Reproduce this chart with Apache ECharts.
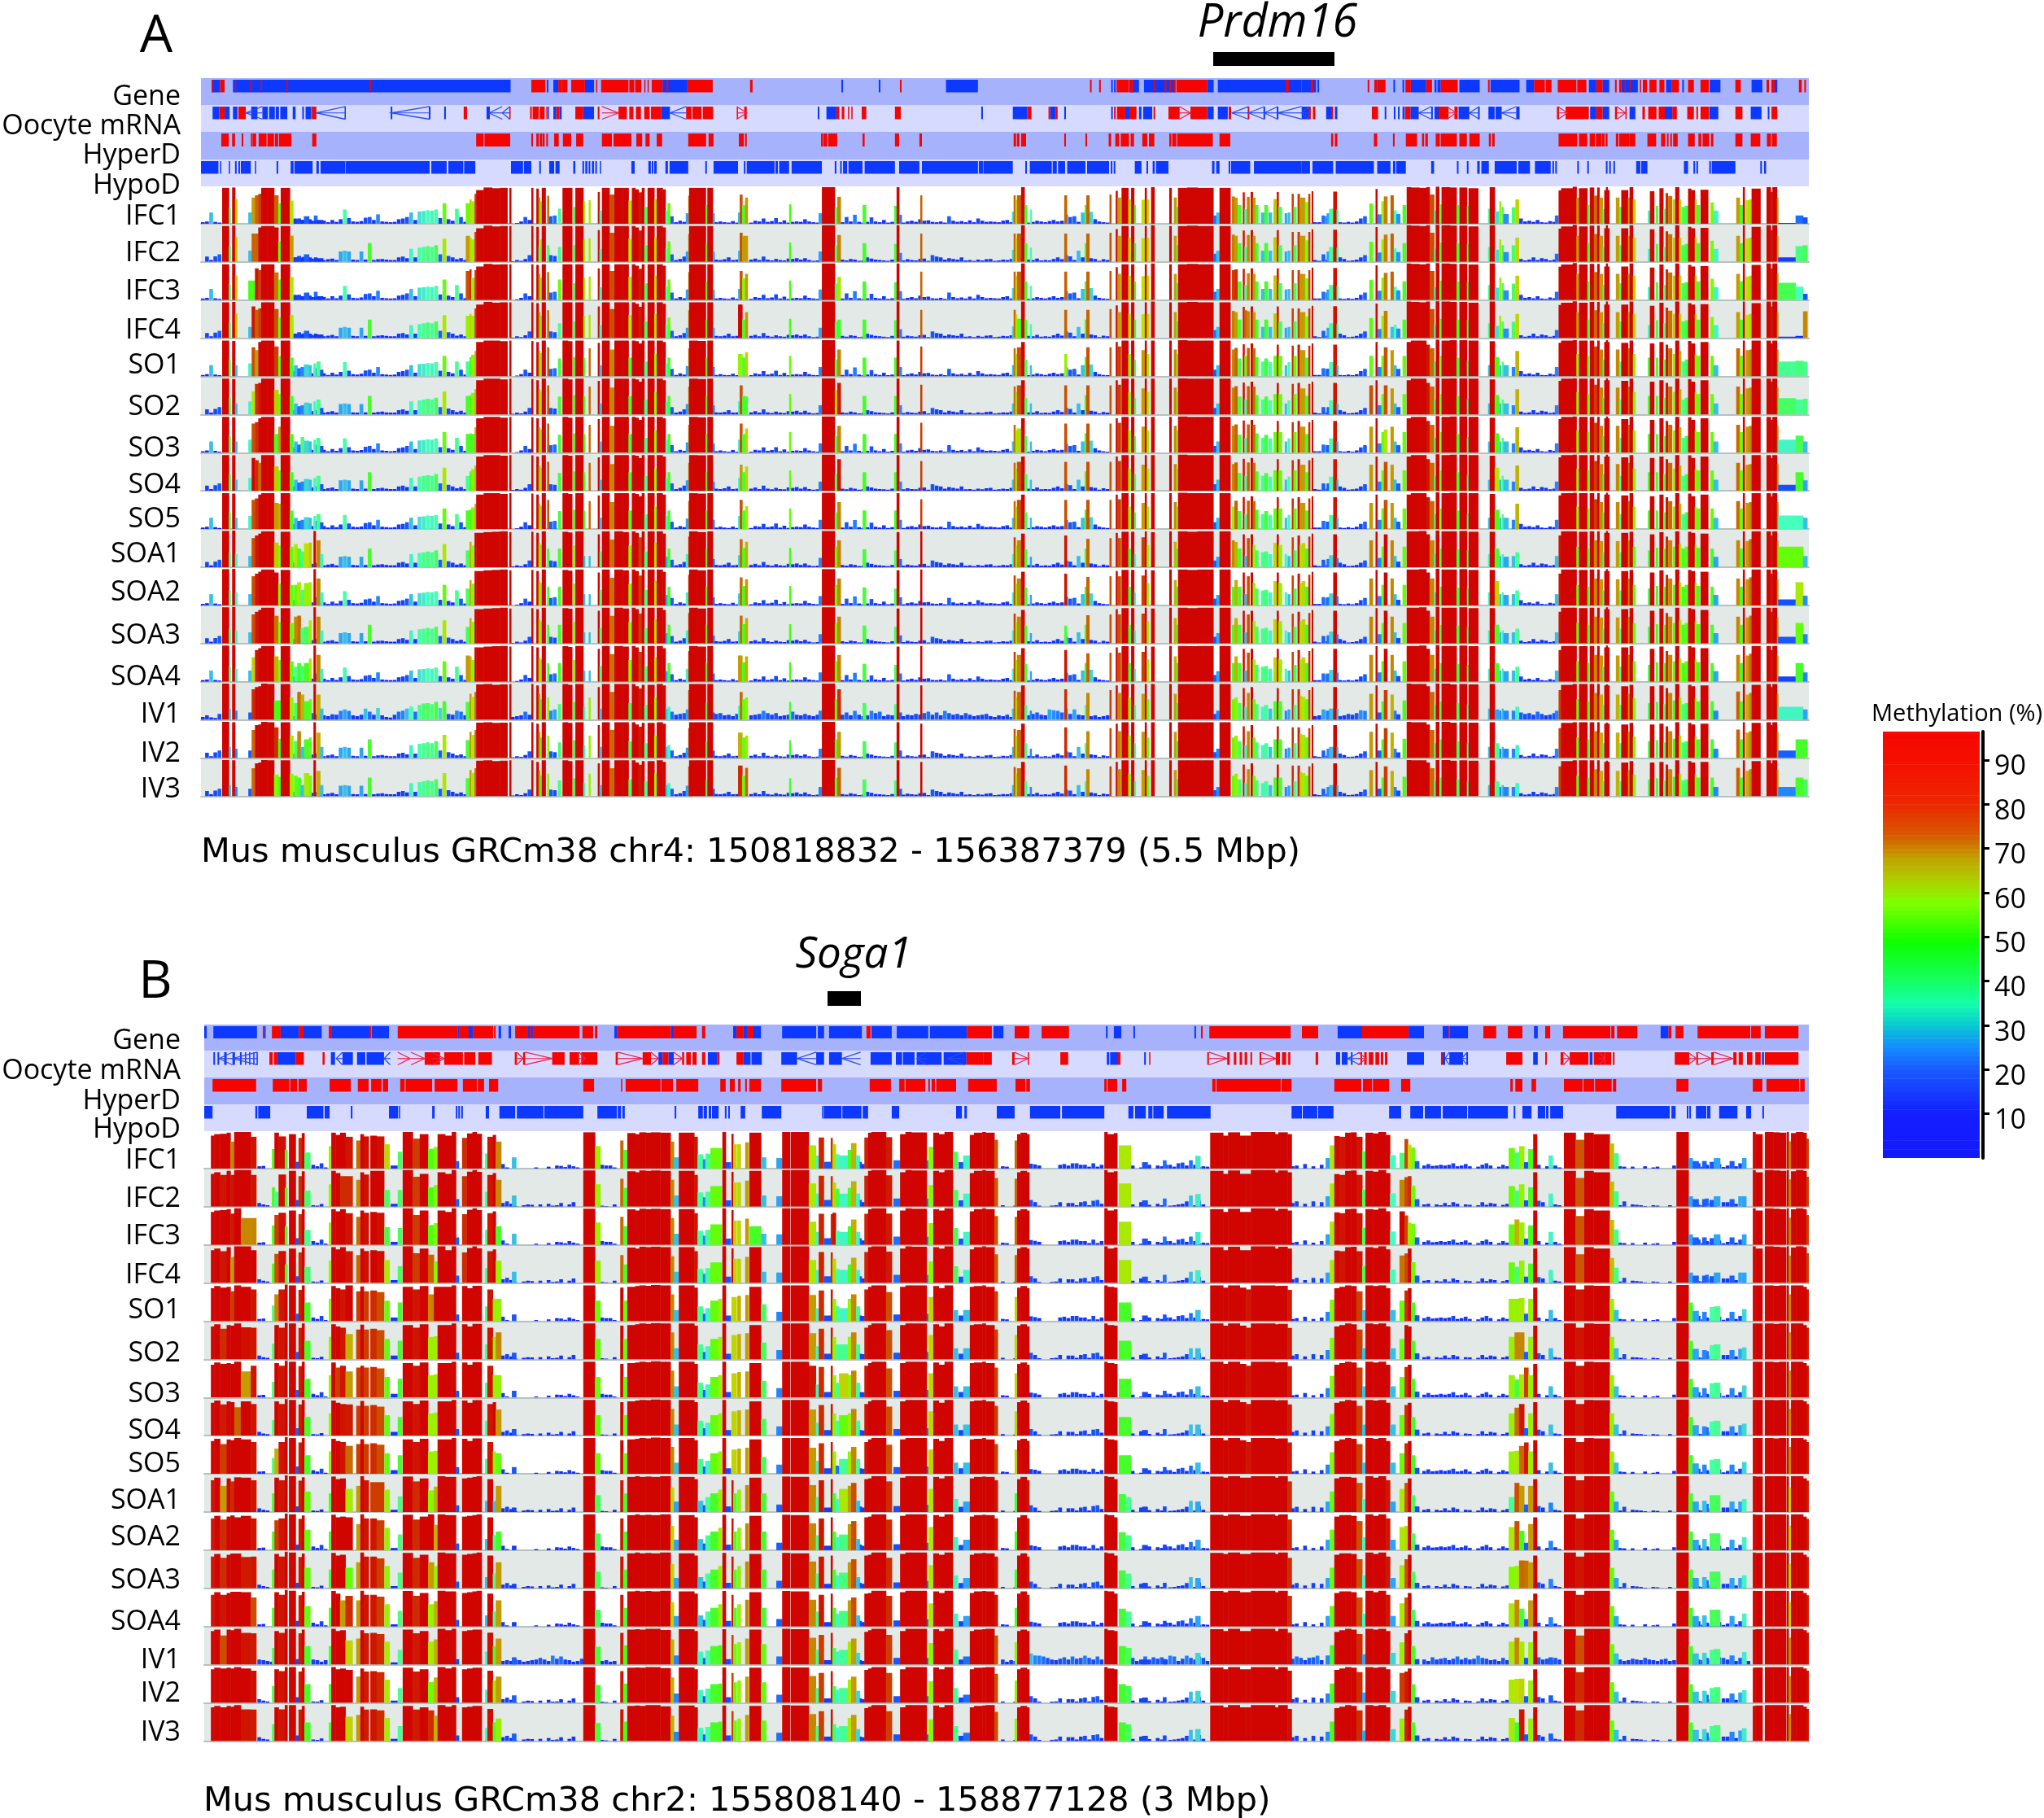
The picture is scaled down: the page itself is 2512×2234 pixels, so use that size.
<!DOCTYPE html>
<html><head><meta charset="utf-8">
<style>html,body{margin:0;padding:0;background:#fff}#c{width:2512px;height:2234px}</style>
<script src="https://cdn.jsdelivr.net/npm/echarts@6/dist/echarts.min.js"></script>
</head><body><div id="c"></div>
<script>
// ---------- names ----------
const samples=['IFC1','IFC2','IFC3','IFC4','SO1','SO2','SO3','SO4','SO5','SOA1','SOA2','SOA3','SOA4','IV1','IV2','IV3'];
const bandNames=['Gene','Oocyte mRNA','HyperD','HypoD'];
const captionA='Mus musculus GRCm38 chr4: 150818832 - 156387379 (5.5 Mbp)';
const captionB='Mus musculus GRCm38 chr2: 155808140 - 158877128 (3 Mbp)';
const legendTicks=[10,20,30,40,50,60,70,80,90];

// ---------- annotation tracks: flat start,end pairs in bins, per stretch of the region ----------
const geneRedA1=[510,512,530,541,566,568,603,605,628,630,690,692,891,894,1280,1314,1345,1353,1353,1367,1376,1409,1436,1439,1448,1514,1516,1528,1530,1545,1552,1555,1560,1563];
const geneRedA2=[2,28,38,42,88,149,239,245,600,604,1058,1062,1080,1084,1122,1152,1155,1163,1212,1215,1238,1242,1250,1254,1260,1264,1266,1340,1530,1537];
const geneRedA3=[22,28,159,163,175,182,184,202,250,263,300,314,335,376,449,453,560,586,588,602,617,662,664,686,710,725,755,759,765,770,778,781,790,793,815,818,822,832,838,855,862,874,892,909,931,945,961,981,1045,1058,1120,1126,1132,1140,1198,1205,1211,1215];
const geneBlueA1=[510,530,561,1230,1317,1321,1333,1345,1409,1431];
const geneBlueA2=[28,88,459,463,549,553,711,788,1109,1113,1116,1120,1153,1176,1188,1264,1340,1356,1366,1568];
const geneBlueA3=[0,35,38,42,182,184,221,225,243,247,263,300,320,325,327,335,380,429,455,525,541,560,692,710,725,741,770,810,878,892,917,921,983,1009,1084,1110,1132,1146];
const oocRedA1=[528,541,574,592,751,762,1117,1125,1227,1230,1277,1281,1283,1298,1300,1312,1316,1319,1340,1348,1386,1405,1440,1444,1490,1510,1516,1526,1532,1544,1552,1565];
const oocRedA2=[0,25,85,98,100,122,125,150,207,210,225,231,447,454,460,466,475,478,483,486,508,519,588,602,907,917,958,962,975,980,1116,1120,1123,1143,1153,1170,1211,1215,1247,1274,1300,1340,1392,1398,1438,1442];
const oocRedA3=[18,22,27,33,73,76,169,184,249,262,330,354,368,376,615,620,636,692,710,725,755,760,780,783,821,827,835,855,860,875,893,904,929,945,951,955,961,981,1045,1062,1132,1146];
const oocBlueA1=[512,528,541,553,561,572,605,620,632,645,648,662,664,672,675,692,705,712,728,732,736,750,830,833,941,945,1033,1037,1070,1074,1172,1180,1320,1322,1333,1340,1348,1353,1405,1431];
const oocBlueA2=[25,46,402,406,423,447,796,800,872,907,962,975,996,1000,1109,1113,1143,1153,1176,1182,1186,1208,1340,1356,1366,1390,1476,1480,1508,1512];
const oocBlueA3=[0,18,59,73,80,86,200,204,222,226,232,236,243,248,262,282,312,316,320,330,378,404,425,429,450,465,467,482,517,525,695,710,725,741,790,804,875,893,982,1004,1082,1108,1123,1127];
const chevBlueA1=[592,632,762,832,943,1035,1178,1210,1210,1228];
const chevBlueA2=[46,85,1400,1440,1440,1478,1478,1510,1510,1568];
const chevBlueA3=[0,18,282,312,404,428,482,517];
const chevRedA1=[1450,1490];
const chevRedA2=[207,231,1274,1300];
const chevRedA3=[350,372,618,640,760,780];
const hyperA1=[533,551,559,566,582,586,604,607,608,617,623,642,644,660,662,670,672,702,752,762,1147,1165,1167,1229,1280,1284,1292,1298,1300,1306,1307,1312,1316,1320,1335,1346,1356,1376,1388,1405,1450,1474,1478,1521,1533,1547,1555,1565];
const hyperA2=[14,27,90,133,139,151,212,224,227,231,410,414,415,425,427,449,510,515,588,598,647,653,874,880,882,888,892,904,996,1000,1047,1051,1103,1109,1119,1128,1132,1152,1156,1164,1184,1196,1200,1213,1249,1254,1256,1266,1268,1354,1370,1396];
const hyperA3=[71,76,80,86,174,182,220,224,251,278,290,295,298,304,323,333,335,374,380,398,404,429,451,456,459,465,619,664,668,688,694,707,709,722,723,730,732,737,757,763,765,790,790,804,833,854,866,876,880,884,888,892,895,906,931,947,956,963,966,982,986,992,1045,1062,1082,1105,1121,1131,1133,1145];
const hypoA1=[484,526,530,533,551,554,566,570,574,578,580,588,588,604,614,617,666,670,700,707,709,753,762,768,772,832,833,1035,1039,1076,1080,1116,1118,1145,1231,1260,1262,1280,1299,1303,1323,1335,1338,1348,1381,1386,1403,1407,1410,1415,1418,1422,1426,1431,1434,1438,1445,1448,1521,1529,1562,1568];
const hypoA2=[2,6,8,14,35,41,45,90,131,135,151,210,224,228,231,298,300,306,309,333,339,412,443,447,456,460,463,473,476,510,515,588,598,647,653,788,790,800,801,872,902,906,913,966,968,978,981,998,1003,1047,1051,1104,1108,1112,1115,1119,1166,1182,1194,1198,1209,1214,1217,1247,1352,1358,1362,1370,1392,1396,1398,1444,1453,1568];
const hypoA3=[0,20,26,76,82,174,182,214,220,226,228,251,312,319,374,378,398,402,423,429,433,451,465,518,522,550,562,600,604,608,611,615,664,668,688,692,733,737,741,745,751,755,806,816,818,833,921,931,944,948,951,955,982,986,988,1045,1105,1109,1114,1119];

const geneRedB1=[633,636,655,676,720,731,792,798,890,894,958,1103,1107,1129,1139,1188,1190,1194,1241,1272,1276,1280,1284,1396,1403,1429,1433,1439,1487,1568];
const geneRedB2=[0,48,55,110,123,131,206,222,233,247,519,529,761,821,876,911,941,1007,1325,1329,1345,1541];
const geneRedB3=[0,39,145,257,353,356,437,468,496,531,586,598,629,743,745,753,759,808,883,890,900,919,953,1080,1082,1105,1115,1196];
const geneBlueB1=[492,498,514,619,636,640,676,720,731,775,798,890,895,937,1103,1107,1129,1139,1201,1207,1225,1231,1272,1276,1280,1284,1480,1487];
const geneBlueB2=[48,55,198,206,222,233,247,265,316,398,402,417,429,508,531,580,592,668,672,761,825,849,1096,1100,1115,1133,1162,1166,1309,1313];
const geneBlueB3=[86,145,257,294,339,353,356,400,559,568,864,883];
const oocRedB1=[649,657,660,668,712,732,777,782,1023,1060,1070,1115,1118,1145,1152,1185,1240,1245,1260,1265,1330,1360,1372,1395,1400,1439,1483,1488,1548,1568];
const oocRedB2=[28,42,75,80,85,96,100,110,123,131,160,165,206,222,760,800,800,821,870,876,908,911,986,1005,1125,1131,1200,1203,1340,1344,1388,1394,1404,1410,1418,1424,1430,1436,1444,1448,1466,1470,1505,1515,1520,1530,1535,1540];
const oocRedB3=[33,39,141,145,150,156,161,172,177,186,190,196,200,206,335,339,492,531,586,590,623,630,645,690,703,730,730,745,749,753,898,933,950,954,986,992,1039,1047,1052,1062,1072,1085,1092,1105,1115,1196];
const oocBlueB1=[514,518,524,528,540,546,560,566,578,582,590,593,600,603,610,613,618,621,668,712,797,807,825,850,860,880,883,925];
const oocBlueB2=[18,28,42,55,137,160,222,240,242,267,314,352,398,417,429,460,529,580,590,605,607,635,640,700,705,760,1098,1104,1106,1125,1188,1192];
const oocBlueB3=[82,92,96,110,118,122,253,294,339,345,355,388,396,400,557,568,693,700,1108,1113];
const chevBlueB1=[528,560,560,620,810,825,925,940];
const chevBlueB2=[352,398,460,505,640,665,715,755];
const chevBlueB3=[110,140,345,355,385,398];
const chevRedB1=[958,988,990,1023,1040,1070,1245,1260,1265,1330,1395,1410,1488,1548];
const chevRedB2=[0,18,55,75,876,908,1344,1388,1470,1505];
const chevRedB3=[135,155,630,645,715,730,930,950,954,986,992,1038];
const hyperB1=[512,617,657,697,699,716,719,739,794,845,862,888,894,919,922,935,964,975,977,1041,1047,1102,1115,1149,1151,1166,1178,1200,1405,1431,1496,1499,1507,1568];
const hyperB2=[0,23,25,53,61,114,167,180,190,202,210,216,227,231,237,265,314,398,402,412,527,578,598,611,613,661,668,672,676,684,687,735,764,833,878,902,904,913,1092,1098,1100,1123,1135,1145,1352,1360,1362,1517,1519,1543];
const hyperB3=[78,143,147,169,171,210,239,261,502,508,514,531,553,564,631,676,678,704,706,746,749,757,902,931,1086,1109,1119,1198,1200,1211];
const hypoB1=[492,512,615,620,622,651,739,779,782,794,845,849,937,959,961,964,1041,1047,1098,1102,1104,1108,1111,1115,1170,1178,1203,1241,1245,1309,1311,1405,1439,1486,1488,1496,1499,1505];
const hypoB2=[57,61,114,125,127,135,139,145,147,163,178,182,186,190,216,227,267,314,412,414,416,459,461,507,510,523,580,598,735,749,755,761,833,876,913,986,990,1092,1150,1162,1166,1192,1198,1208,1210,1235,1243,1348,1543,1568];
const hypoB3=[2,37,39,76,210,239,261,292,296,335,339,398,400,496,510,514,531,553,568,586,588,594,598,629,757,886,890,900,927,931,933,937,949,974,976,984,1005,1049,1070,1082,1109,1113];

// ---------- methylation: start,end, % in IFC, SO, SOA, IV samples ----------
const peaksA1=[[535,551,96,96,97,97],[551,555,42,45,40,30],[559,566,97,95,98,96],[566,571,66,30,35,25],[598,606,30,35,30,20],[606,614,70,78,78,75],[614,622,76,82,85,88],[622,629,80,92,90,90],[629,643,96,96,96,97],[643,660,96,96,96,96],[660,670,76,66,66,72],[670,676,55,55,58,52],[676,698,96,96,95,96],[698,706,62,50,55,60],[708,716,12,30,45,45],[716,724,14,22,55,38],[724,732,10,25,42,30],[732,744,20,32,50,50],[744,750,12,30,62,55],[755,760,8,35,97,96],[762,771,10,40,72,68],[771,778,10,18,35,30]];
const peaksA2=[[1122,1131,55,50,45,48],[1131,1135,65,52,68,70],[1135,1143,60,58,58,62],[1143,1147,80,68,92,75],[1147,1165,90,92,92,95],[1165,1185,97,96,94,96],[1185,1204,95,96,95,94],[1204,1222,96,94,96,95],[1227,1231,96,96,94,96],[1280,1284,96,95,95,96],[1292,1297,94,92,92,92],[1297,1301,70,68,66,70],[1301,1305,60,62,60,55],[1305,1314,96,96,96,96],[1318,1322,75,78,50,60],[1344,1351,40,48,50,42],[1355,1368,96,96,95,96],[1368,1378,96,94,93,94],[1380,1386,45,52,58,48],[1386,1405,96,96,96,96],[1405,1409,60,50,30,35],[1418,1422,63,75,30,60],[1440,1444,85,90,88,88],[1444,1449,35,30,42,30],[1450,1468,96,96,96,96],[1468,1480,78,72,74,75],[1480,1500,96,96,96,96],[1500,1514,96,96,94,96],[1514,1522,62,50,58,45],[1522,1530,96,96,96,96],[1530,1538,92,94,92,90],[1538,1546,84,88,80,84],[1546,1552,96,96,96,94],[1552,1560,45,40,42,40]];
const peaksA3=[[1560,1576,96,96,96,94],[1576,1582,65,60,65,60],[1582,1596,96,96,96,96],[1596,1603,92,92,90,92],[1603,1608,36,35,28,30],[1608,1614,55,50,50,35],[1652,1658,28,28,35,28],[1658,1668,75,75,82,80],[1660,1680,96,96,96,96],[1680,1700,96,95,94,96],[1700,1704,50,50,50,45],[1704,1717,96,96,96,96],[1717,1721,28,25,22,20],[1778,1783,30,35,32,38],[1782,1788,78,78,75,75],[1788,1795,50,50,52,55],[1795,1801,70,65,68,60],[1901,1905,52,55,52,48],[1972,1980,28,25,25,25],[1980,2011,98,97,97,97],[2011,2018,44,45,55,50],[2017,2025,72,72,72,70],[2078,2086,50,50,48,45],[2154,2160,48,50,45,42],[2160,2166,98,96,94,96],[2166,2172,24,25,22,20],[2217,2221,76,80,96,92]];
const peaksA4=[[2438,2442,32,30,35,30],[2442,2446,76,75,80,78],[2446,2450,64,60,58,60],[2450,2460,76,78,72,75],[2460,2468,98,92,90,92],[2468,2474,50,45,48,40],[2481,2485,38,30,28,25],[2564,2570,76,78,85,82],[2613,2618,50,52,50,40],[2617,2624,76,78,76,72],[2673,2677,78,78,78,80],[2688,2692,88,92,92,92],[2692,2700,70,80,78,72],[2702,2718,96,96,95,96],[2718,2724,65,60,50,60],[2725,2732,96,96,95,96],[2732,2736,50,45,35,40],[2750,2758,64,70,80,70],[2758,2762,96,96,96,96],[2763,2768,65,60,60,55],[2773,2781,98,96,94,96],[2817,2822,96,96,96,96],[2828,2834,70,72,68,70],[2834,2840,45,60,50,45],[2838,2860,96,97,96,96],[2860,2885,97,96,95,96],[2885,2905,96,96,96,96],[2905,2923,96,96,96,96],[2923,2930,22,18,18,16],[2930,2938,30,30,28,25],[2938,2964,96,96,96,96]];
const peaksA5=[[2968,2974,73,72,50,55],[2974,2981,70,76,68,60],[2982,2990,50,48,50,45],[2994,2998,84,86,88,85],[2998,3004,40,40,30,35],[3004,3010,72,76,78,72],[3013,3018,85,88,88,88],[3018,3024,70,75,60,55],[3024,3031,50,52,45,42],[3038,3046,30,40,40,35],[3046,3054,50,48,42,40],[3056,3064,30,38,35,30],[3068,3076,66,55,65,50],[3076,3080,85,85,88,85],[3080,3088,45,55,60,50],[3095,3100,28,30,35,25],[3102,3108,30,38,30,28],[3112,3116,80,82,80,82],[3116,3123,45,55,45,40],[3126,3131,80,85,85,82],[3131,3136,70,70,60,65],[3136,3144,70,70,65,62],[3144,3152,58,50,50,55],[3152,3156,80,82,82,80],[3160,3163,87,88,90,88],[3196,3206,28,20,22,25],[3202,3212,40,38,32,30],[3212,3220,86,85,88,88],[3220,3224,38,30,25,30]];
const peaksA6=[[3299,3307,54,70,72,70],[3314,3318,93,92,95,92],[3318,3328,25,25,25,20],[3328,3334,60,55,55,50],[3334,3342,73,78,88,80],[3350,3357,76,70,72,68],[3358,3364,36,30,30,25],[3364,3373,26,20,15,15],[3379,3387,50,55,55,52],[3389,3399,98,92,96,97],[3399,3419,97,96,96,96],[3419,3436,96,96,97,96],[3436,3444,98,85,88,90],[3444,3455,78,75,72,75],[3455,3459,35,40,35,40],[3459,3467,99,98,98,97],[3469,3473,52,55,50,50],[3473,3493,98,96,96,97],[3493,3509,97,97,96,95],[3509,3515,50,50,48,45],[3516,3534,97,97,97,96],[3534,3538,48,42,45,40],[3538,3561,95,96,95,95],[3585,3589,40,30,35,30],[3589,3601,98,94,95,96],[3601,3611,33,52,50,40],[3612,3616,60,30,30,25],[3618,3622,45,40,35,30],[3622,3634,26,30,28,25],[3642,3650,44,25,30,25],[3651,3659,65,68,40,35]];
const peaksA7=[[3746,3754,22,25,30,25],[3755,3761,89,90,85,80],[3761,3791,95,96,96,94],[3789,3798,99,97,96,96],[3798,3804,70,60,55,55],[3804,3824,95,96,95,96],[3824,3828,50,55,50,50],[3830,3840,97,96,96,96],[3840,3848,75,80,72,72],[3848,3853,97,96,96,96],[3853,3861,70,72,70,68],[3861,3865,40,45,40,40],[3865,3877,90,92,92,92],[3869,3873,98,97,97,95],[3893,3901,70,72,70,68],[3901,3906,45,40,40,40],[3906,3922,90,90,92,90],[3922,3926,70,75,72,70],[3926,3934,98,96,95,94],[3934,3940,65,60,55,58]];
const peaksA8=[[3970,3976,35,50,45,45],[3975,3985,87,88,88,90],[3989,3994,48,50,52,48],[3998,4007,95,92,94,92],[4007,4013,40,45,50,42],[4013,4018,82,85,82,85],[4019,4028,74,75,72,72],[4030,4036,65,60,55,52],[4036,4045,98,96,96,96],[4045,4050,65,68,62,60],[4051,4059,45,40,50,42],[4059,4067,48,45,55,45],[4067,4074,94,95,95,94],[4074,4083,90,88,92,90],[4083,4087,65,60,60,58],[4087,4095,50,55,52,50],[4097,4115,91,92,90,92],[4121,4128,57,55,50,50],[4128,4139,35,30,28,25],[4183,4191,70,75,72,76],[4191,4199,50,55,50,50],[4199,4203,98,96,96,96],[4206,4214,63,70,70,68],[4214,4220,65,72,75,72],[4220,4241,94,96,96,94],[4256,4266,98,96,96,96],[4266,4270,85,88,85,88],[4270,4281,98,96,96,96],[4281,4284,70,72,70,70],[4284,4326,2,30,16,25],[4326,4344,22,40,55,45],[4344,4354,17,40,26,40]];

const peaksB1=[[508,516,88,88,85,90],[516,530,92,94,92,94],[530,546,93,90,92,92],[546,555,96,92,90,94],[555,564,72,90,93,92],[564,580,98,96,93,96],[580,604,98,92,92,92],[604,617,85,85,85,84],[655,661,52,42,50,45],[661,671,96,92,92,90],[671,688,86,85,85,85],[686,692,50,98,98,96],[696,712,92,96,96,96],[712,719,18,20,15,15],[719,727,82,84,84,84],[727,733,95,96,93,94],[733,747,43,50,55,50],[792,798,60,60,50,50],[798,808,96,94,95,96],[808,819,90,88,88,90],[819,832,96,85,90,92],[832,849,85,70,82,82],[858,868,75,80,70,70],[868,876,92,93,96,92],[876,888,86,80,85,84],[892,907,88,82,85,85],[907,925,86,78,80,82],[926,938,65,55,60,62],[941,957,8,10,6,6],[958,968,45,50,42,40]];
const peaksB2=[[970,994,98,92,95,94],[994,1011,80,85,82,84],[1011,1031,92,94,90,90],[1031,1045,53,60,70,70],[1045,1054,58,62,68,68],[1054,1072,92,92,96,96],[1072,1088,88,92,94,92],[1088,1098,98,96,94,96],[1098,1105,20,18,18,15],[1113,1125,82,94,90,90],[1125,1138,94,88,92,92],[1138,1148,98,95,94,94],[1148,1160,93,95,96,94],[1168,1174,40,40,30,35],[1174,1187,85,85,88,86],[1187,1194,90,60,40,50],[1194,1207,72,70,70,70],[1233,1243,30,18,12,20],[1405,1433,97,96,96,96],[1433,1446,60,55,45,48],[1494,1501,75,90,85,85],[1501,1511,50,55,50,52],[1511,1530,95,92,94,94],[1530,1540,92,94,96,95],[1540,1555,97,96,94,94],[1555,1568,96,95,95,96]];
const peaksB3=[[1568,1590,97,97,94,96],[1590,1615,96,96,96,93],[1615,1623,72,72,65,68],[1623,1635,30,30,28,25],[1635,1672,96,96,94,95],[1672,1680,85,90,88,90],[1680,1693,38,40,30,35],[1693,1699,25,20,18,18],[1699,1711,40,35,40,38],[1711,1730,55,55,50,50],[1730,1738,55,60,60,52],[1740,1748,98,96,95,95],[1748,1760,17,15,15,15],[1762,1766,93,65,85,80],[1766,1774,65,65,50,55],[1776,1784,65,68,60,60],[1795,1803,70,70,72,70],[1805,1833,96,92,92,94],[1833,1845,30,45,50,55],[1870,1884,28,25,20,22]];
const peaksB4=[[1884,1903,98,96,95,96],[1905,1948,98,96,94,95],[1948,1965,62,70,72,72],[1965,1972,35,35,40,40],[1972,1984,83,82,85,80],[1985,2001,18,15,12,12],[2001,2005,82,85,88,85],[2005,2013,65,60,50,45],[2013,2021,38,40,35,35],[2021,2043,35,40,42,40],[2042,2050,50,60,70,62],[2050,2062,68,72,78,70],[2062,2071,35,40,30,32],[2071,2075,18,15,15,12],[2075,2082,12,14,12,10],[2082,2091,83,85,88,88],[2091,2099,96,92,90,92],[2099,2134,98,96,96,96],[2134,2148,84,78,82,80],[2152,2168,22,18,16,18],[2168,2181,92,92,92,90],[2181,2195,98,96,96,96],[2195,2232,97,96,96,96],[2232,2236,22,20,20,18],[2236,2248,58,65,62,58],[2248,2261,96,94,94,95],[2261,2275,92,88,90,90],[2275,2295,98,96,96,96],[2297,2307,45,30,35,40],[2309,2320,17,15,14,14],[2320,2336,35,30,28,22],[2336,2346,90,92,90,90],[2346,2366,96,94,94,94],[2366,2374,98,96,95,95],[2374,2395,96,92,94,96],[2395,2403,77,80,85,78],[2444,2450,75,65,50,60],[2450,2458,92,90,88,90],[2458,2473,96,94,94,94],[2473,2479,92,88,85,90]];
const peaksB5=[[2660,2667,98,96,96,96],[2667,2683,92,92,94,92],[2683,2691,95,90,88,90],[2695,2711,62,50,48,50],[2711,2724,62,50,40,45],[2751,2764,17,15,14,14],[2801,2809,22,18,15,15],[2879,2891,34,30,28,32],[2915,2946,96,96,95,95],[2946,2958,88,90,92,90],[2958,2986,97,96,96,96],[2986,3001,88,90,92,90],[3001,3013,88,85,92,90],[3013,3071,98,96,96,96],[3071,3079,92,94,92,90],[3079,3101,97,95,96,96],[3101,3111,92,84,82,86]];
const peaksB6=[[3193,3203,28,25,28,25],[3203,3214,62,58,55,52],[3214,3226,87,88,90,88],[3226,3240,85,92,94,92],[3240,3254,96,96,94,96],[3254,3267,97,94,92,94],[3267,3281,85,80,78,82],[3281,3289,46,30,35,28],[3289,3307,96,96,96,96],[3307,3320,94,94,92,94],[3320,3338,98,96,96,96],[3338,3348,90,88,85,90],[3348,3361,36,30,28,32],[3371,3383,42,55,62,60],[3383,3391,79,82,78,84],[3391,3399,64,88,90,92],[3399,3408,56,50,45,50],[3408,3418,20,16,15,15]];
const peaksB7=[[3634,3648,55,60,62,62],[3648,3659,43,72,78,70],[3659,3671,60,62,75,65],[3671,3681,17,20,20,18],[3681,3693,52,60,70,60],[3693,3702,92,90,88,90],[3730,3740,35,30,25,20],[3767,3795,96,96,96,95],[3795,3816,77,85,85,82],[3816,3838,96,96,96,96],[3838,3877,92,95,96,96],[3877,3887,67,60,55,55],[3887,3898,41,30,28,30]];
const peaksB8=[[4038,4067,98,97,96,96],[4067,4077,28,50,50,50],[4077,4091,20,28,28,30],[4100,4110,20,25,30,32],[4118,4128,18,38,45,40],[4128,4143,28,40,45,42],[4166,4177,20,25,28,25],[4196,4206,28,32,35,34],[4222,4228,98,96,96,94],[4228,4245,92,96,95,95],[4251,4271,98,96,96,96],[4271,4286,97,95,96,96],[4286,4302,96,96,96,96],[4304,4308,98,96,95,96],[4308,4314,73,72,66,72],[4314,4326,95,96,96,96],[4326,4343,98,96,96,96],[4343,4351,96,92,90,92],[4351,4357,80,85,84,86]];

// ---------- low-level bars: one list per gap, one reading every 10 bins from the gap start ----------
const gapStartsA=[484,706,1231,1322,1614,1721,1805,2025,2172,2474,3164,3660];
const lowOddA=[
[4,6,30,5,3],
[14,13,10,18,8,22,7,8,4,10,5,12,38,15,6,5,7,16,18,10,25,6,5,4,5,12,14,18,30,10,33,34,36,35,38,15,55,12,8,40,18,5],
[0,2,6,18,10],[20,22],[20,4,8,5],[4,6,4,3,7,3],
[3,8,6,14,5,7,15,4,9,3,5,6,5,12,6,4,3],
[4,18,6,24,5,3,5,17,6,4,10,3,5],
[3,6,8,5,12,8,9,5,4,6,3,20,8,5,7,4,9,4,14,8,5,6,5,4,8,10,4],
[3,5,8,6,4,7,10,6,8,24,18,20,5,30,8,32,12,6,4,3],
[4,4,22,20,4,3,4,3,5,3,6,14,20],
[14,6,8,5,10,4,3,7,5]];
const lowEvenA=[
[0,14,5,15,20],
[12,16,13,14,9,12,6,5,7,9,5,28,30,28,6,5,28,6,50,5,7,8,6,5,5,12,14,10,35,12,38,40,42,40,45,20,62,16,12,7,10,5],
[2,5,3,8,18],[18,16],[20,5,8,14],[6,5,7,12,5,6],
[6,9,5,14,6,4,8,5,4,9,8,10,6,10,5,3,4],
[6,4,8,6,3,4,12,9,6,5,4,3,6],
[4,7,5,4,8,9,3,18,14,12,6,10,8,6,12,4,5,3,6,4,7,8,3,4,6,5,8],
[6,5,9,4,5,4,8,12,7,18,15,5,30,12,16,10,8,3,7,5],
[5,3,20,6,8,3,12,8,3,4,6,12,18],
[8,4,6,12,5,10,8,4,6]];
const lowIV1A=[
[8,12,7,5,16],
[10,12,16,14,18,14,16,12,10,15,14,24,28,24,12,10,14,30,22,14,32,12,8,6,14,22,25,30,36,22,40,44,45,42,48,32,50,16,14,25,22,12],
[8,10,12,22,14],[25,28],[22,14,16,18],[16,18,12,14,10,16],
[12,14,16,24,18,14,18,10,12,14,22,14,12,16,12,10,14],
[14,20,12,24,14,10,12,24,18,22,10,14,12],
[10,14,12,16,14,18,22,14,20,12,24,18,14,16,12,18,14,10,12,14,16,10,8,12,10,14,8],
[12,16,20,14,12,28,26,24,20,30,16,28,14,12,18,10,12,8,10,12],
[10,12,28,24,20,18,10,12,16,14,18,26,24],
[20,16,18,14,22,16,12,14,18]];

const gapStartsB=[620,750,1207,1446,2411,2479,2724,3109,3426,3702,3898,4077];
const lowOddB=[
[6,7,0,0],[10,6,14,3],
[12,3,0,0,0,0,0,0,3,0,0,5,0,8,7,4,10,6,3,0],
[10,8,8,3],[6,5,0,0],
[13,11,8,0,0,0,0,10,12,8,14,14,10,10,5,14,5,10],
[8,0,3,12,10,0,8,6,10,10,5,14,16,8,22,10,4,6,5],
[6,8,0,12,0,6,0,10],
[8,12,7,8,10,8,10,14,6,8,12,6,0,5,10,14,8,0,5,10,6],
[10,0,6,7,8,3],[6,5,0,5,0,0,6,0,3,5,0,0,0,8],
[6,14,5,10,8,4,12,4,8,0,6,14,6,0]];
const lowEvenB=[
[10,6,4,0],[4,3,7,0],
[10,14,8,2,0,4,6,5,0,6,0,8,3,4,10,0,6,12,0,0],
[3,2,0,6],[4,0,0,3],
[18,12,3,0,0,3,4,12,0,10,10,4,12,14,4,16,18,8],
[6,0,12,14,5,0,8,4,0,3,4,6,8,14,30,4,16,6,0],
[10,14,0,8,0,14,0,12],
[6,8,0,6,4,10,4,12,8,0,6,5,0,4,12,5,10,8,0,5,8],
[16,12,0,10,6,4],[4,14,0,6,5,4,2,0,4,3,0,0,4,0],
[6,5,4,22,10,4,0,12,12,4,8,28,4,0]];
const lowIV1B=[
[14,12,10,8],[14,12,8,12],
[10,12,10,14,12,8,10,12,14,18,14,10,24,16,22,14,12,8,10,16],
[10,12,8,10],[14,8,12,10],
[30,25,24,22,18,14,12,16,20,14,22,16,18,24,18,14,22,14],
[18,10,14,22,14,20,16,20,14,24,22,10,16,24,18,14,22,18,10],
[16,22,18,12,18,20,24,12],
[14,10,20,14,16,18,12,16,22,14,18,14,16,24,18,16,12,14,10,18,12],
[20,14,16,12,18,14],[14,10,12,16,14,12,18,14,12,10,14,16,10,12],
[16,14,12,18,14,12,20,18,14,12,10,18,14,10]];

// ---------- readings that depart from the group column: [position, %] ----------
const tweaksA={
IFC1:[],
IFC2:[[610,76],[625,92],[665,92],[702,70],[1127,70],[1300,40],[1318,45],[4300,12],[4335,42],[4350,45],[2045,88],[1790,70]],
IFC3:[[602,52],[610,52],[618,85],[665,74],[1790,58],[1125,78],[1133,82],[1350,55],[4300,46],[4335,36],[4350,17],[2021,62],[2972,80],[2978,82]],
IFC4:[[610,85],[1125,60],[665,78],[2452,52],[3355,30],[4300,4],[4335,6],[4350,72],[1782,90],[3000,75],[2020,50]],
SO1:[[620,70],[660,80],[1782,60],[2564,60],[3000,55],[1125,40],[4300,40],[4335,42],[4350,40],[3300,55]],
SO2:[[606,62],[622,85],[1795,48],[2013,65],[2020,85],[3090,60],[4300,44],[4335,40],[4350,42],[3300,78]],
SO3:[[660,50],[670,70],[730,42],[1140,50],[2450,65],[3335,62],[3010,84],[4300,35],[4335,46],[4350,30]],
SO4:[[610,88],[625,75],[1125,40],[1783,70],[2020,85],[3605,62],[3010,55],[4300,16],[4335,50],[4350,28]],
SO5:[[670,68],[664,70],[712,30],[1132,52],[1795,62],[2973,60],[4300,36],[4335,36],[4350,30]],
SOA1:[[710,62],[716,50],[740,64],[747,66],[2973,72],[4300,55],[4335,55],[4350,30]],
SOA2:[[664,88],[712,55],[722,62],[736,60],[1795,70],[3605,65],[4300,16],[4335,62],[4350,26]],
SOA3:[[664,74],[712,72],[722,75],[736,45],[2564,48],[4300,18],[4335,55],[4350,25]],
SOA4:[[610,65],[625,90],[664,68],[712,40],[722,50],[1125,70],[1782,70],[4300,14],[4335,50],[4350,25]],
IV1:[[610,82],[664,52],[718,75],[730,68],[2020,82],[2015,55],[3605,28],[4300,35],[4335,35],[4350,28]],
IV2:[[664,82],[712,45],[722,72],[740,50],[1782,68],[4300,20],[4335,50],[4350,50]],
IV3:[[664,58],[712,55],[722,50],[736,62],[1782,82],[1795,76],[2020,76],[4300,25],[4335,50],[4350,45]]};
const tweaksB={
IFC1:[],
IFC2:[[540,85],[560,85],[640,28],[670,40],[705,96],[824,82],[840,82],[860,72],[900,96],[915,96],[930,45],[1016,88],[1032,52],[2020,48],[3382,72],[3392,82]],
IFC3:[[560,84],[595,72],[610,72],[670,80],[740,40],[870,92],[930,48],[1195,50],[1830,50],[2010,86],[3375,90],[3398,60],[3648,68],[3660,60]],
IFC4:[[530,85],[555,70],[610,88],[670,78],[930,62],[1040,76],[1055,98],[1200,60],[3380,74],[3395,92]],
SO1:[[560,80],[670,72],[840,96],[1200,60],[1035,72],[1050,92],[2040,35],[3648,60]],
SO2:[[545,82],[580,86],[840,68],[1200,72],[1035,60],[3660,72],[3390,92]],
SO3:[[600,70],[810,80],[870,85],[1200,60],[1950,85],[2025,65],[3650,48],[3680,80]],
SO4:[[530,84],[570,76],[840,84],[1190,90],[1950,70],[2028,55],[3650,75],[3660,85]],
SO5:[[545,80],[670,68],[840,75],[1196,55],[2020,22],[3650,62],[3660,75],[3680,84]],
SOA1:[[545,70],[560,82],[840,62],[900,80],[1035,58],[1190,30],[2025,62],[3640,40],[3660,70]],
SOA2:[[530,82],[575,88],[670,80],[840,88],[1035,96],[1195,50],[3385,60],[3390,65],[3660,52]],
SOA3:[[540,82],[600,84],[840,55],[1050,60],[3680,74],[3640,58],[3650,60]],
SOA4:[[540,85],[610,78],[820,70],[1040,60],[3668,58],[3650,72],[3660,48]],
IV1:[[530,70],[545,78],[580,85],[840,65],[1040,62],[3650,72],[3660,62],[3800,78]],
IV2:[[610,86],[840,88],[1035,56],[1190,60],[3650,64],[3380,80]],
IV3:[[530,90],[600,85],[840,65],[1035,82],[1195,60],[3650,50],[3660,85]]};

// ---------- colour scales ----------
const trackStops=[[0,[20,24,255]],[12,[20,60,250]],[20,[25,95,255]],[27,[40,150,255]],[31,[60,205,220]],[36,[70,255,190]],[45,[70,255,90]],[52,[70,255,20]],[58,[130,250,0]],[64,[190,225,0]],[69,[195,165,0]],[74,[200,115,0]],[79,[205,70,0]],[84,[207,25,0]],[88,[208,5,0]],[100,[208,4,0]]];
const legendStops=[[0,[20,25,255]],[10,[20,30,255]],[20,[25,90,255]],[25,[20,140,255]],[30,[10,200,210]],[35,[20,255,170]],[40,[20,255,100]],[49,[15,255,0]],[58,[130,255,0]],[62,[170,215,0]],[68,[195,160,0]],[73,[215,90,0]],[80,[235,40,0]],[90,[245,15,0]],[97,[245,5,0]]];
function ramp(st,v){
  for(let i=1;i<st.length;i++){ if(v<=st[i][0]){
    const a=st[i-1],b=st[i],t=(v-a[0])/(b[0]-a[0]);
    return 'rgb('+a[1].map((c,k)=>Math.round(c+(b[1][k]-c)*t)).join(',')+')';
  }}
  return 'rgb('+st[st.length-1][1].join(',')+')';
}

// ---------- layout ----------
const RED='#F50400',BLUE='#0D38FF',BAND1='#A7B2FD',BAND2='#D7DAFF',TRACK_GRAY='#E2E9E6',RULE='#B6C2BF';
const FONT='"Open Sans"',CAPTION_FONT='"DejaVu Sans"';
const panels=[
 {key:'A',left:247,width:1976,min:484,max:4358,bandTops:[96,129,162,196,229],trackTop:229,
  labelY:[117,153,189,226,264,309,356,404,447,498,549,594,636,679,726,779,830,876,924,968],
  peaks:[].concat(peaksA1,peaksA2,peaksA3,peaksA4,peaksA5,peaksA6,peaksA7,peaksA8),
  gapStarts:gapStartsA,lowOdd:lowOddA,lowEven:lowEvenA,lowIV1:lowIV1A,tweaks:tweaksA,
  bands:[
   {blue:[geneBlueA1,geneBlueA2,geneBlueA3],red:[geneRedA1,geneRedA2,geneRedA3]},
   {blue:[oocBlueA1,oocBlueA2,oocBlueA3],red:[oocRedA1,oocRedA2,oocRedA3],chevBlue:[chevBlueA1,chevBlueA2,chevBlueA3],chevRed:[chevRedA1,chevRedA2,chevRedA3]},
   {blue:[[],[],[]],red:[hyperA1,hyperA2,hyperA3]},
   {blue:[hypoA1,hypoA2,hypoA3],red:[[],[],[]]}]},
 {key:'B',left:251,width:1972,min:492,max:4357,bandTops:[1259,1291,1324,1357,1390],trackTop:1390,
  labelY:[1277,1314,1351,1386,1424,1471,1517,1565,1608,1661,1711,1756,1797,1842,1887,1940,1991,2038,2079,2127],
  peaks:[].concat(peaksB1,peaksB2,peaksB3,peaksB4,peaksB5,peaksB6,peaksB7,peaksB8),
  gapStarts:gapStartsB,lowOdd:lowOddB,lowEven:lowEvenB,lowIV1:lowIV1B,tweaks:tweaksB,
  bands:[
   {blue:[geneBlueB1,geneBlueB2,geneBlueB3],red:[geneRedB1,geneRedB2,geneRedB3]},
   {blue:[oocBlueB1,oocBlueB2,oocBlueB3],red:[oocRedB1,oocRedB2,oocRedB3],chevBlue:[chevBlueB1,chevBlueB2,chevBlueB3],chevRed:[chevRedB1,chevRedB2,chevRedB3]},
   {blue:[[],[],[]],red:[hyperB1,hyperB2,hyperB3]},
   {blue:[hypoB1,hypoB2,hypoB3],red:[[],[],[]]}]}
];
const TRACK_H=46.9;
const stretchOffsets=[0,1568,3136];

function unpack(lists,tag){
  const out=[];
  lists.forEach((flat,i)=>{for(let k=0;k+1<flat.length;k+=2) out.push([flat[k]+stretchOffsets[i],flat[k+1]+stretchOffsets[i],tag]);});
  return out;
}
function columnFor(s){return s.startsWith('IFC')?2:s.startsWith('SOA')?4:s.startsWith('SO')?3:5;}
function lowSetFor(p,s){
  if(s==='IV1') return p.lowIV1;
  const odd=['IFC1','IFC3','SO1','SO3','SO5','SOA2','SOA4'];
  return odd.includes(s)?p.lowOdd:p.lowEven;
}
function trackData(p,s){
  const out=[];
  lowSetFor(p,s).forEach((vals,g)=>vals.forEach((v,i)=>{
    if(v>0){const x=p.gapStarts[g]+i*10; out.push([x,x+8,v]);}
  }));
  const c=columnFor(s),tw=p.tweaks[s]||[];
  p.peaks.forEach(r=>{
    let v=r[c];
    tw.forEach(t=>{if(t[0]>=r[0]&&t[0]<r[1]) v=t[1];});
    out.push([r[0],r[1],v]);
  });
  return out;
}

// ---------- render items ----------
function barItem(prm,api){
  const v=api.value(2),a=api.coord([api.value(0),v]),b=api.coord([api.value(1),0]);
  return {type:'rect',shape:{x:a[0],y:a[1],width:Math.max(b[0]-a[0]+0.5,1.4),height:b[1]-a[1]},style:{fill:ramp(trackStops,v)}};
}
function markItem(prm,api){
  const a=api.coord([api.value(0),0.94]),b=api.coord([api.value(1),0.47]);
  return {type:'rect',shape:{x:a[0],y:a[1],width:Math.max(b[0]-a[0],1.4),height:b[1]-a[1]},style:{fill:api.value(2)===1?RED:BLUE}};
}
function chevItem(prm,api){
  const a=api.coord([api.value(0),0.94]),b=api.coord([api.value(1),0.47]),red=api.value(2)===1,m=(a[1]+b[1])/2;
  const pts=red?[[a[0],a[1]],[b[0],m],[a[0],b[1]]]:[[b[0],a[1]],[a[0],m],[b[0],b[1]]];
  const col=red?'#F0204A':'#2A4BF0';
  return {type:'group',children:[
    {type:'polyline',shape:{points:pts},style:{stroke:col,fill:null,lineWidth:1.3}},
    {type:'line',shape:{x1:a[0],y1:m,x2:b[0],y2:m},style:{stroke:col,lineWidth:1.2}}]};
}
function legendItem(prm,api){
  const v=api.value(0),a=api.coord([0,v+1]),b=api.coord([1,v]);
  return {type:'rect',shape:{x:a[0],y:a[1],width:b[0]-a[0],height:b[1]-a[1]+0.6},style:{fill:ramp(legendStops,v+0.5)}};
}

// ---------- assemble ----------
const grid=[],xAxis=[],yAxis=[],series=[],graphic=[];
function addGrid(g,x,y){
  const i=grid.length; grid.push(g); xAxis.push(Object.assign({gridIndex:i},x)); yAxis.push(Object.assign({gridIndex:i},y)); return i;
}
function text(t,x,y,size,align,opt){
  const fam=(opt&&opt.family)||FONT;
  graphic.push({type:'text',silent:true,x:x,y:y,style:{text:t,font:(opt&&opt.italic?'italic ':'')+size+'px '+fam,fill:'#000',textAlign:align,textVerticalAlign:'middle'}});
}
panels.forEach(p=>{
  const xBase={type:'value',min:p.min,max:p.max,show:false};
  bandNames.forEach((nm,b)=>{
    const top=p.bandTops[b],h=p.bandTops[b+1]-top,cfg=p.bands[b];
    const i=addGrid({left:p.left,width:p.width,top:top,height:h,show:true,backgroundColor:(b%2===0)?BAND1:BAND2,borderWidth:0},xBase,{type:'value',min:0,max:1,show:false});
    series.push({type:'custom',name:p.key+' '+nm,xAxisIndex:i,yAxisIndex:i,coordinateSystem:'cartesian2d',silent:true,animation:false,progressive:0,clip:true,renderItem:markItem,encode:{x:[0,1]},
      data:unpack(cfg.blue,0).concat(unpack(cfg.red,1))});
    if(cfg.chevBlue) series.push({type:'custom',name:p.key+' '+nm+' introns',xAxisIndex:i,yAxisIndex:i,silent:true,animation:false,progressive:0,clip:true,renderItem:chevItem,encode:{x:[0,1]},
      data:unpack(cfg.chevBlue,0).concat(unpack(cfg.chevRed,1))});
    text(nm,222,p.labelY[b]+2,34,'right');
  });
  samples.forEach((s,k)=>{
    const top=p.trackTop+k*TRACK_H;
    const i=addGrid({left:p.left,width:p.width,top:top,height:TRACK_H-1,show:true,backgroundColor:(k%2===1)?TRACK_GRAY:'#fff',borderWidth:0},
      {type:'value',min:p.min,max:p.max,axisLine:{show:true,onZero:false,lineStyle:{color:RULE,width:2}},axisTick:{show:false},axisLabel:{show:false},splitLine:{show:false}},
      {type:'value',min:0,max:100,show:false});
    series.push({type:'custom',name:p.key+' '+s,xAxisIndex:i,yAxisIndex:i,silent:true,animation:false,progressive:0,clip:true,renderItem:barItem,encode:{x:[0,1],y:2},data:trackData(p,s)});
    text(s,222,p.labelY[k+4]+2,34,'right');
  });
});
// legend
(function(){
  const i=addGrid({left:2314,width:119,top:899,height:524,show:false},
    {type:'value',min:0,max:1,show:false},
    {type:'value',min:0,max:96.4,position:'right',offset:4,splitLine:{show:false},
     axisLine:{show:true,onZero:false,lineStyle:{color:'#000',width:4}},
     axisTick:{show:true,length:8,lineStyle:{color:'#000',width:3},customValues:legendTicks},
     axisLabel:{show:true,margin:14,fontSize:34,fontFamily:FONT,color:'#000',verticalAlign:'top',lineHeight:18,customValues:legendTicks}});
  const levels=[];for(let v=0;v<97;v++)levels.push([v]);
  series.push({type:'custom',name:'Methylation (%)',xAxisIndex:i,yAxisIndex:i,silent:true,animation:false,progressive:0,clip:true,renderItem:legendItem,encode:{y:0},data:levels});
})();
// captions
text('A',192,46,64,'center');
text('B',191,1208,64,'center');
text('Prdm16',1570,29,56,'center',{italic:true});
text('Soga1',1049,1174,53,'center',{italic:true});
text(captionA,247,1048,41.5,'left',{family:CAPTION_FONT});
text(captionB,250,2214,41.5,'left',{family:CAPTION_FONT});
text('Methylation (%)',2405,878,29,'center');
graphic.push({type:'rect',silent:true,shape:{x:1491,y:64,width:149,height:17},style:{fill:'#000'}});
graphic.push({type:'rect',silent:true,shape:{x:1017,y:1218,width:41,height:18},style:{fill:'#000'}});

const chart=echarts.init(document.getElementById('c'),null,{renderer:'canvas',width:2512,height:2234,devicePixelRatio:1});
chart.setOption({backgroundColor:'#fff',animation:false,tooltip:{show:false},grid,xAxis,yAxis,series,graphic});
</script></body></html>
